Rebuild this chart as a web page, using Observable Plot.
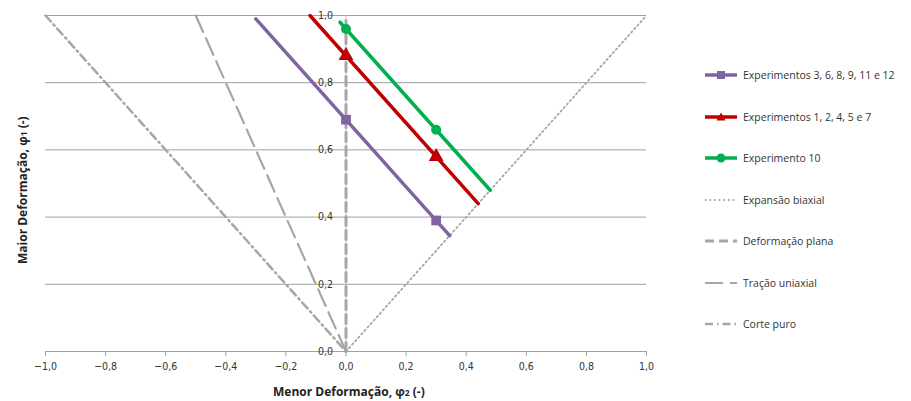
<!DOCTYPE html>
<html>
<head>
<meta charset="utf-8">
<script src="https://cdn.jsdelivr.net/npm/d3@7"></script>
<script src="https://cdn.jsdelivr.net/npm/@observablehq/plot@0.6"></script>
<style>
  html, body { margin: 0; padding: 0; background: #fff; }
  #wrap { position: relative; width: 911px; height: 401px; font-family: "Open Sans", "Noto Sans", sans-serif; }
  #chart { position: absolute; left: 0; top: 0; }
  .axtitle { position: absolute; font-weight: bold; font-size: 12px; color: #222; white-space: nowrap; }
  .axtitle sub { font-size: 8.5px; vertical-align: baseline; position: relative; top: 0; }
  #legend { position: absolute; left: 704px; top: 0; font-size: 10.5px; color: #333; }
  .item { position: absolute; left: 0; display: flex; align-items: center; white-space: nowrap; height: 16px; }
  .item svg { margin-right: 5px; }
</style>
</head>
<body>
<div id="wrap">
  <div id="chart"></div>
  <div class="axtitle" id="xtitle">Menor Deformação, φ<sub>2</sub> (-)</div>
  <div class="axtitle" id="ytitle">Maior Deformação, φ<sub>1</sub> (-)</div>
  <div id="legend"></div>
</div>
<script>
// ---- data ----
const xTicks = [-1.0, -0.8, -0.6, -0.4, -0.2, 0.0, 0.2, 0.4, 0.6, 0.8, 1.0];
const yTicks = [0.0, 0.2, 0.4, 0.6, 0.8, 1.0];

// reference strain paths (x = minor strain, y = major strain)
const corteX = [-1.0, 0.0], corteY = [1.0, 0.0];
const tracaoX = [-0.5, 0.0], tracaoY = [1.0, 0.0];
const planaX = [0.0, 0.0], planaY = [0.0, 1.0];
const biaxialX = [0.0, 1.0], biaxialY = [0.0, 1.0];

// experiment lines
const purpleLineX = [-0.30, 0.345], purpleLineY = [0.99, 0.345];
const purpleMarkX = [0.0, 0.3], purpleMarkY = [0.69, 0.39];
const redLineX = [-0.12, 0.44], redLineY = [1.0, 0.44];
const redMarkX = [0.0, 0.3], redMarkY = [0.88, 0.58];
const greenLineX = [-0.02, 0.48], greenLineY = [0.98, 0.48];
const greenMarkX = [0.0, 0.3], greenMarkY = [0.96, 0.66];

const seriesNames = ["Experimentos 3, 6, 8, 9, 11 e 12", "Experimentos 1, 2, 4, 5 e 7", "Experimento 10",
  "Expansão biaxial", "Deformação plana", "Tração uniaxial", "Corte puro"];

// ---- helpers ----
const pts = (xs, ys) => xs.map((x, i) => ({x, y: ys[i]}));
const fmt = d => d3.format(".1f")(d).replace(".", ",");
const GRAY = "#a6a6a6";
const PURPLE = "#8064a2", RED = "#c00000", GREEN = "#00b050";

const styles = {
  corte: {stroke: GRAY, strokeWidth: 2.5, strokeDasharray: "8,4,1.5,4"},
  tracao: {stroke: GRAY, strokeWidth: 2.2, strokeDasharray: "18,7"},
  plana: {stroke: GRAY, strokeWidth: 3, strokeDasharray: "9,5"},
  biaxial: {stroke: GRAY, strokeWidth: 1.8, strokeDasharray: "1.6,3"}
};

const plot = Plot.plot({
  width: 690, height: 401,
  marginLeft: 45, marginRight: 44, marginTop: 15, marginBottom: 50,
  x: {domain: [-1, 1], axis: null},
  y: {domain: [0, 1], axis: null},
  style: {fontFamily: "'Liberation Sans Narrow', 'DejaVu Sans Condensed', sans-serif", fontSize: "10.5px", color: "#333"},
  marks: [
    Plot.ruleY(yTicks, {x1: -1, x2: 1, stroke: "#a0a0a0", strokeWidth: 1}),
    Plot.axisX({ticks: xTicks, tickFormat: fmt, tickSize: 5, tickPadding: 6, stroke: "#a0a0a0", fill: "#333", label: null}),
    Plot.ruleX([0], {y1: 0, y2: 1, stroke: "#c8c8c8", strokeWidth: 1}),
    Plot.text(yTicks, {x: 0, y: d => d, text: fmt, textAnchor: "end", dx: -13, fill: "#333"}),
    Plot.line(pts(corteX, corteY), {x: "x", y: "y", ...styles.corte}),
    Plot.line(pts(tracaoX, tracaoY), {x: "x", y: "y", ...styles.tracao}),
    Plot.line(pts(biaxialX, biaxialY), {x: "x", y: "y", ...styles.biaxial}),
    Plot.line(pts(purpleLineX, purpleLineY), {x: "x", y: "y", stroke: PURPLE, strokeWidth: 3.5}),
    Plot.line(pts(redLineX, redLineY), {x: "x", y: "y", stroke: RED, strokeWidth: 3.5}),
    Plot.line(pts(greenLineX, greenLineY), {x: "x", y: "y", stroke: GREEN, strokeWidth: 3.5}),
    Plot.line(pts(planaX, planaY), {x: "x", y: "y", ...styles.plana}),
    Plot.dot(pts(purpleMarkX, purpleMarkY), {x: "x", y: "y", symbol: "square", r: 5.5, fill: PURPLE}),
    Plot.dot(pts(redMarkX, redMarkY), {x: "x", y: "y", symbol: "triangle", r: 5.5, fill: RED}),
    Plot.dot(pts(greenMarkX, greenMarkY), {x: "x", y: "y", symbol: "circle", r: 5, fill: GREEN})
  ]
});
document.getElementById("chart").appendChild(plot);

// axis titles
const xt = document.getElementById("xtitle");
xt.style.left = "273px"; xt.style.top = "383px";
const yt = document.getElementById("ytitle");
yt.style.transformOrigin = "left top";
yt.style.transform = "rotate(-90deg)";
yt.style.left = "14px"; yt.style.top = "264px";

// legend
const legend = document.getElementById("legend");
const sampleSvg = (kind) => {
  const ns = "http://www.w3.org/2000/svg";
  const s = document.createElementNS(ns, "svg");
  s.setAttribute("width", 34); s.setAttribute("height", 12);
  const l = document.createElementNS(ns, "line");
  l.setAttribute("x1", 1); l.setAttribute("x2", 33); l.setAttribute("y1", 6); l.setAttribute("y2", 6);
  let st = null, col = null, mk = null;
  if (kind === 0) { col = PURPLE; mk = "square"; }
  if (kind === 1) { col = RED; mk = "triangle"; }
  if (kind === 2) { col = GREEN; mk = "circle"; }
  if (col) { l.setAttribute("stroke", col); l.setAttribute("stroke-width", 3.5); }
  else {
    st = [styles.biaxial, styles.plana, styles.tracao, styles.corte][kind - 3];
    l.setAttribute("stroke", st.stroke); l.setAttribute("stroke-width", st.strokeWidth);
    l.setAttribute("stroke-dasharray", st.strokeDasharray);
  }
  s.appendChild(l);
  if (mk === "square") {
    const r = document.createElementNS(ns, "rect");
    r.setAttribute("x", 13); r.setAttribute("y", 2); r.setAttribute("width", 8); r.setAttribute("height", 8); r.setAttribute("fill", col);
    s.appendChild(r);
  } else if (mk === "triangle") {
    const p = document.createElementNS(ns, "path");
    p.setAttribute("d", "M17,1.5 L21.5,9.5 L12.5,9.5 Z"); p.setAttribute("fill", col);
    s.appendChild(p);
  } else if (mk === "circle") {
    const c = document.createElementNS(ns, "circle");
    c.setAttribute("cx", 17); c.setAttribute("cy", 6); c.setAttribute("r", 4.5); c.setAttribute("fill", col);
    s.appendChild(c);
  }
  return s;
};
const itemTops = [75, 117, 158, 200, 241, 283, 324];
seriesNames.forEach((name, i) => {
  const it = document.createElement("div");
  it.className = "item";
  it.style.top = (itemTops[i] - 8) + "px";
  it.appendChild(sampleSvg(i));
  const t = document.createElement("span");
  t.textContent = name;
  it.appendChild(t);
  legend.appendChild(it);
});
</script>
</body>
</html>
